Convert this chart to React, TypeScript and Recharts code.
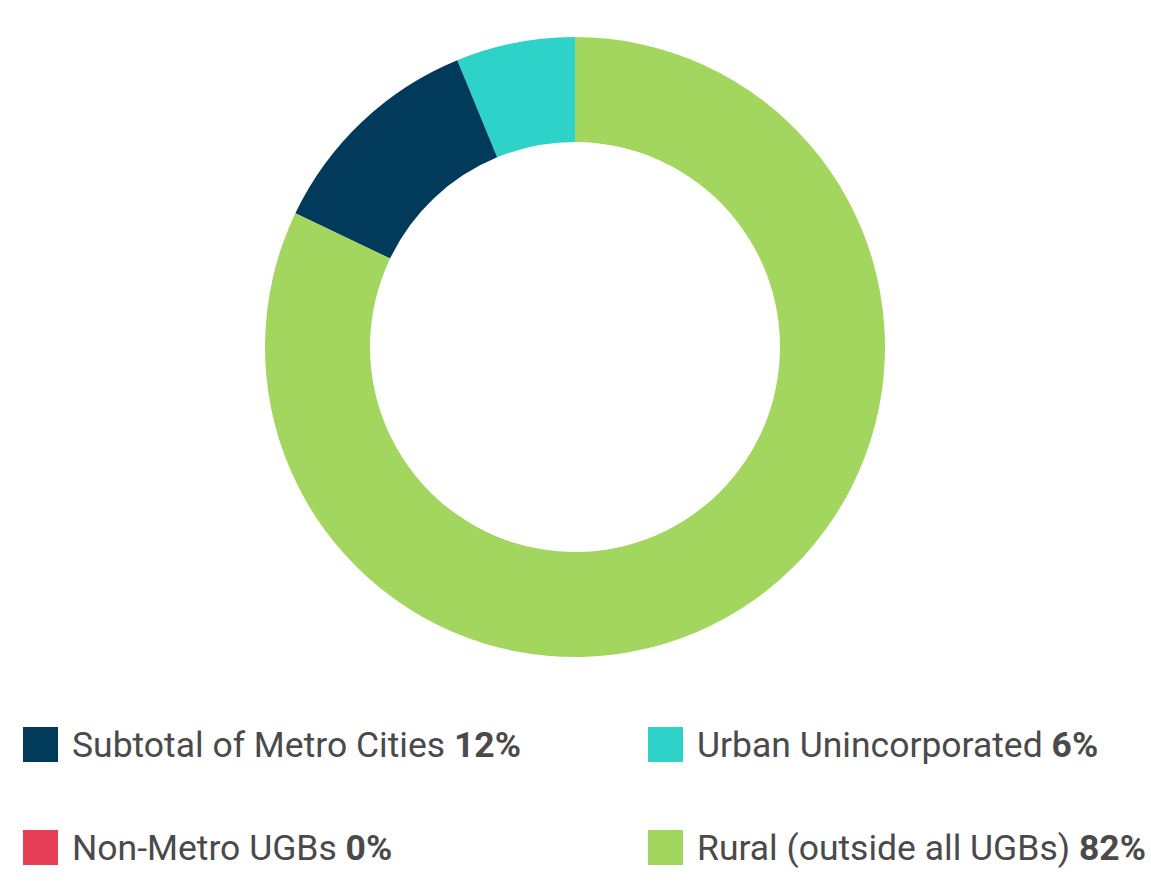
import { PieChart, Pie, Cell } from 'recharts';

// slice order as drawn, counterclockwise from 12 o'clock
const names = ['Urban Unincorporated', 'Subtotal of Metro Cities', 'Non-Metro UGBs', 'Rural (outside all UGBs)'];
const values = [6.2, 11.7, 0, 82.1];
const labels = ['6%', '12%', '0%', '82%'];
const colors = ['#2dd3c8', '#023a5c', '#e63e54', '#a3d65f'];

// legend reading order (left to right, top to bottom)
const legendOrder = [1, 0, 2, 3];

const data = names.map((name, i) => ({ name, value: values[i] }));

export default function App() {
  return (
    <div
      style={{
        position: 'absolute',
        left: 0,
        top: 0,
        width: 1151,
        height: 887,
        background: '#fff',
        fontFamily: 'Roboto, sans-serif',
      }}
    >
      <PieChart width={1151} height={700} margin={{ top: 0, right: 0, bottom: 0, left: 0 }}>
        <Pie
          data={data}
          dataKey="value"
          nameKey="name"
          cx={575}
          cy={347}
          innerRadius={205}
          outerRadius={310}
          startAngle={90}
          endAngle={450}
          stroke="none"
          isAnimationActive={false}
        >
          {data.map((_, idx) => (
            <Cell key={idx} fill={colors[idx]} />
          ))}
        </Pie>
      </PieChart>
      {legendOrder.map((idx, k) => {
        const col = k % 2;
        const row = Math.floor(k / 2);
        return (
          <div
            key={idx}
            style={{
              position: 'absolute',
              left: col === 0 ? 23 : 648,
              top: row === 0 ? 727 : 830,
              display: 'flex',
              alignItems: 'center',
              height: 35,
            }}
          >
            <span style={{ width: 35, height: 35, background: colors[idx], display: 'inline-block', flexShrink: 0 }} />
            <span style={{ marginLeft: 14, fontSize: 35.5, color: '#4a4a4a', whiteSpace: 'nowrap' }}>
              {names[idx]} <b>{labels[idx]}</b>
            </span>
          </div>
        );
      })}
    </div>
  );
}
